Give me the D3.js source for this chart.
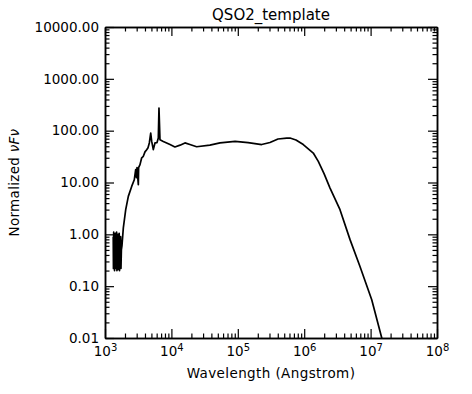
<!DOCTYPE html>
<html>
<head>
<meta charset="utf-8">
<script src="https://cdn.jsdelivr.net/npm/d3@7"></script>
<style>
  body { margin: 0; background: #fff; }
  text { font-family: "DejaVu Sans", sans-serif; }
</style>
</head>
<body>
<div id="chart"></div>
<script>
// QSO2 template SED
var wavelength = [
  1330, 1340, 1352, 1365, 1378, 1392, 1406, 1420, 1435, 1450, 1465, 1480,
  1496, 1512, 1528, 1545, 1562, 1580, 1598, 1616, 1635, 1655, 1675, 1696,
  1718, 1740, 1765, 1800, 1888, 2051, 2245, 2523, 2761,
  2898, 2980, 3033, 3176, 3208, 3365, 3570, 3777, 4000, 4246, 4445, 4650,
  4880, 5050, 5340, 5660, 6070, 6350, 6500, 6730, 7550, 9530, 11300, 13500,
  16000, 19000, 24000, 38000, 54000, 91000, 143000, 229000, 305000, 403000,
  545000, 611000, 752000, 968000, 1.37e6, 1.63e6, 1.99e6, 2.45e6, 3.46e6,
  4.9e6, 6.92e6, 1.04e7, 1.47e7, 2.0e7
];
var flux = [
  0.9, 0.22, 1.1, 0.3, 0.95, 0.2, 1.0, 0.35, 1.05, 0.22, 0.9, 0.25,
  1.1, 0.2, 0.8, 0.3, 1.0, 0.21, 0.85, 0.25, 1.05, 0.2, 0.7, 0.3,
  0.9, 0.22, 0.5, 0.6, 1.33, 2.99, 5.4, 8.4, 11.3,
  17.7, 12.4, 19.3, 9.1, 19.3, 22.1, 30, 32, 39, 43, 47, 58,
  90, 62, 43, 58, 59, 72, 274, 67, 62, 54, 48.5, 52.5,
  58, 54, 49, 52.5, 58, 62, 59, 54, 59, 69,
  72, 72, 66, 54, 37, 25.5, 14.8, 7.8, 2.99,
  0.79, 0.24, 0.0546, 0.0101, 0.002
];
var xMajor = [1e3, 1e4, 1e5, 1e6, 1e7, 1e8];
var yMajor = [0.01, 0.1, 1, 10, 100, 1000, 10000];
var titleText = "QSO2_template";
var xLabel = "Wavelength (Angstrom)";

var W = 472, H = 394;
var margin = { top: 27, right: 35, bottom: 56, left: 105 };
var width = W - margin.left - margin.right;
var height = H - margin.top - margin.bottom;

var svg = d3.select("#chart").append("svg")
  .attr("width", W)
  .attr("height", H);

var g = svg.append("g")
  .attr("transform", `translate(${margin.left},${margin.top})`);

var x = d3.scaleLog().domain([1e3, 1e8]).range([0, width]);
var y = d3.scaleLog().domain([0.01, 10000]).range([height, 0]);

// minor ticks 2..9 in every decade
function minors(majors) {
  var out = [];
  for (var i = 0; i < majors.length - 1; i++) {
    for (var k = 2; k <= 9; k++) out.push(majors[i] * k);
  }
  return out;
}
var xMinor = minors(xMajor);
var yMinor = minors(yMajor);

var fs = 13.5;

// bottom axis (with labels)
var xb = g.append("g")
  .attr("transform", `translate(0,${height})`)
  .call(d3.axisBottom(x).tickValues(xMajor).tickSizeInner(-9).tickSizeOuter(0)
    .tickPadding(8.5).tickFormat(""));
xb.selectAll(".tick text").each(function(d) {
  var t = d3.select(this).text("");
  t.append("tspan").text("10");
  t.append("tspan").attr("dy", -5).style("font-size", "10px").text(Math.round(Math.log10(d)));
});
g.append("g")
  .attr("transform", `translate(0,${height})`)
  .call(d3.axisBottom(x).tickValues(xMinor).tickSizeInner(-4.5).tickSizeOuter(0).tickFormat(""));

// top axis
g.append("g")
  .call(d3.axisTop(x).tickValues(xMajor).tickSizeInner(-9).tickSizeOuter(0).tickFormat(""));
g.append("g")
  .call(d3.axisTop(x).tickValues(xMinor).tickSizeInner(-4.5).tickSizeOuter(0).tickFormat(""));

// left axis (with labels)
g.append("g")
  .call(d3.axisLeft(y).tickValues(yMajor).tickSizeInner(-9).tickSizeOuter(0)
    .tickPadding(6).tickFormat(d3.format(".2f")));
g.append("g")
  .call(d3.axisLeft(y).tickValues(yMinor).tickSizeInner(-4.5).tickSizeOuter(0).tickFormat(""));

// right axis
g.append("g")
  .attr("transform", `translate(${width},0)`)
  .call(d3.axisRight(y).tickValues(yMajor).tickSizeInner(-9).tickSizeOuter(0).tickFormat(""));
g.append("g")
  .attr("transform", `translate(${width},0)`)
  .call(d3.axisRight(y).tickValues(yMinor).tickSizeInner(-4.5).tickSizeOuter(0).tickFormat(""));

g.selectAll(".domain").attr("stroke", "#000").attr("stroke-width", 1.5);
g.selectAll(".tick line").attr("stroke", "#000").attr("stroke-width", 1.2);
g.selectAll(".tick text")
  .attr("fill", "#000")
  .style("font-size", fs + "px")
  .style("font-family", "DejaVu Sans, sans-serif");

// the curve
g.append("clipPath").attr("id", "plot-clip")
  .append("rect").attr("width", width).attr("height", height);

var sed = wavelength.map((w, i) => ({ w: w, f: flux[i] }));
var line = d3.line()
  .x(d => x(d.w))
  .y(d => y(d.f));

g.append("path")
  .datum(sed)
  .attr("clip-path", "url(#plot-clip)")
  .attr("fill", "none")
  .attr("stroke", "#000")
  .attr("stroke-width", 1.7)
  .attr("stroke-linejoin", "round")
  .attr("d", line);

// title
svg.append("text")
  .attr("x", margin.left + width / 2)
  .attr("y", 20)
  .attr("text-anchor", "middle")
  .style("font-size", "15px")
  .text(titleText);

// x label
svg.append("text")
  .attr("x", margin.left + width / 2)
  .attr("y", 378)
  .attr("text-anchor", "middle")
  .style("font-size", fs + "px")
  .style("letter-spacing", "0.4px")
  .text(xLabel);

// y label
var yl = svg.append("text")
  .attr("transform", `translate(19,${margin.top + height / 2}) rotate(-90)`)
  .attr("text-anchor", "middle")
  .style("font-size", fs + "px")
  .style("letter-spacing", "0.3px");
yl.append("tspan").text("Normalized ");
yl.append("tspan").style("font-style", "italic").text("\u03BDF\u03BD");
</script>
</body>
</html>
